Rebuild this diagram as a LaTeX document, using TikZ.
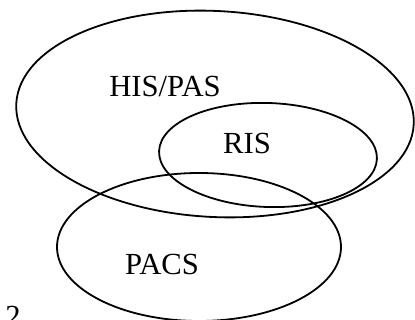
\documentclass[tikz,border=0pt]{standalone}
\usepackage{fontspec}
\setmainfont{Liberation Serif}
\begin{document}
\begin{tikzpicture}[
x=0.75pt, y=-0.75pt, line width=1.35pt,
lbl/.style={font=\fontsize{23}{27}\selectfont, inner sep=0pt}
]
\useasboundingbox (0,0) rectangle (415,320);
% sets
\draw[rotate around={-3:(215,114)}] (215,114) ellipse [x radius=199, y radius=103];
\draw[rotate around={-2:(268,155)}] (268,155) ellipse [x radius=109, y radius=52];
\draw (199,247) ellipse [x radius=142, y radius=74];
% labels
\node[lbl] (his) at (165,87) {HIS/PAS};
\node[lbl] (ris) at (247,144) {RIS};
\node[lbl] (pacs) at (162,265) {PACS};
\node[lbl] (num) at (13,316) {2};
\end{tikzpicture}
\end{document}
